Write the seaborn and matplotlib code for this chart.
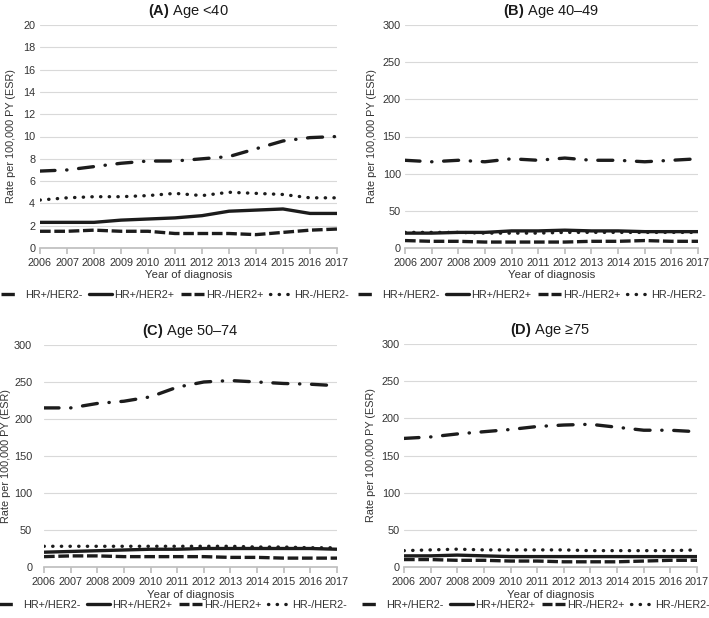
import matplotlib
matplotlib.use("Agg")
import matplotlib.pyplot as plt
from matplotlib.lines import Line2D
import pandas as pd
import seaborn as sns

# years on the x axis
years = list(range(2006, 2018))
subtypes = ["HR+/HER2-", "HR+/HER2+", "HR-/HER2+", "HR-/HER2-"]

# panel A: age <40
a_hrpos_her2neg = [6.9, 7.0, 7.3, 7.6, 7.8, 7.8, 8.0, 8.2, 8.9, 9.6, 9.9, 10.0]
a_hrpos_her2pos = [2.3, 2.3, 2.3, 2.5, 2.6, 2.7, 2.9, 3.3, 3.4, 3.5, 3.1, 3.1]
a_hrneg_her2pos = [1.5, 1.5, 1.6, 1.5, 1.5, 1.3, 1.3, 1.3, 1.2, 1.4, 1.6, 1.7]
a_hrneg_her2neg = [4.3, 4.5, 4.6, 4.6, 4.7, 4.9, 4.7, 5.0, 4.9, 4.8, 4.5, 4.5]

# panel B: age 40-49
b_hrpos_her2neg = [118, 116, 118, 116, 120, 118, 121, 118, 118, 116, 118, 120]
b_hrpos_her2pos = [20, 20, 21, 21, 23, 23, 24, 23, 23, 22, 22, 22]
b_hrneg_her2pos = [10, 9, 9, 8, 8, 8, 8, 9, 9, 10, 9, 9]
b_hrneg_her2neg = [21, 21, 21, 20, 20, 20, 21, 21, 21, 21, 21, 21]

# panel C: age 50-74
c_hrpos_her2neg = [215, 215, 221, 224, 230, 243, 250, 252, 250, 248, 247, 245]
c_hrpos_her2pos = [20, 21, 22, 23, 24, 24, 25, 25, 25, 25, 25, 24]
c_hrneg_her2pos = [14, 15, 15, 14, 14, 14, 14, 13, 13, 12, 12, 12]
c_hrneg_her2neg = [28, 28, 28, 28, 28, 28, 28, 28, 27, 27, 26, 26]

# panel D: age >=75
d_hrpos_her2neg = [173, 175, 179, 182, 185, 189, 191, 192, 188, 184, 184, 182]
d_hrpos_her2pos = [15, 15, 16, 15, 14, 14, 14, 14, 14, 14, 14, 14]
d_hrneg_her2pos = [10, 10, 9, 9, 8, 8, 7, 7, 7, 8, 9, 9]
d_hrneg_her2neg = [22, 23, 24, 23, 23, 23, 23, 22, 22, 22, 22, 23]

panels = [
    ("A", " Age <40", [a_hrpos_her2neg, a_hrpos_her2pos, a_hrneg_her2pos, a_hrneg_her2neg], 20, 2),
    ("B", " Age 40\u201349", [b_hrpos_her2neg, b_hrpos_her2pos, b_hrneg_her2pos, b_hrneg_her2neg], 300, 50),
    ("C", " Age 50\u201374", [c_hrpos_her2neg, c_hrpos_her2pos, c_hrneg_her2pos, c_hrneg_her2neg], 300, 50),
    ("D", " Age \u226575", [d_hrpos_her2neg, d_hrpos_her2pos, d_hrneg_her2pos, d_hrneg_her2neg], 300, 50),
]

sns.set_theme(style="white")
plt.rcParams["font.family"] = ["Liberation Sans", "DejaVu Sans"]
plt.rcParams["mathtext.fontset"] = "custom"
plt.rcParams["mathtext.bf"] = "Liberation Sans:bold"
plt.rcParams["mathtext.rm"] = "Liberation Sans"

line_color = "#1c1c1c"
text_color = "#333333"
lw = 2.4
fs = 7.8
dashes = {
    "HR+/HER2-": (4.5, 3.5, 0.1, 3.5),
    "HR+/HER2+": "",
    "HR-/HER2+": (3.2, 1.1),
    "HR-/HER2-": (0.1, 2.5),
}

fig = plt.figure(figsize=(7.09, 6.18), dpi=100)
W, H = 709, 618
# axes boxes in pixels: left, top, right, bottom
boxes = [(40, 25, 337, 248), (405, 25, 698, 248), (44, 345, 337, 567), (404, 344, 697, 567)]
# legend centres and y-label (right edge) x positions in pixels
legend_centres = [(175, 295), (532, 295), (173, 605), (536, 605)]
ylabel_x = [16, 377, 11, 376]
ytick_pad = [3.5, 3, 8.5, 3]

for (tag, label, series, ymax, ystep), (l, t, r, b), (lx, ly), yx, yp in zip(
        panels, boxes, legend_centres, ylabel_x, ytick_pad):
    ax = fig.add_axes([l / W, 1 - b / H, (r - l) / W, (b - t) / H])
    df = pd.DataFrame({
        "year": years * 4,
        "rate": [v for s in series for v in s],
        "subtype": [st for st in subtypes for _ in years],
    })
    sns.lineplot(data=df, x="year", y="rate", style="subtype", style_order=subtypes,
                 dashes=dashes, color=line_color, linewidth=lw, ax=ax, legend=False)
    for ln, st in zip(ax.lines, subtypes):
        if st == "HR-/HER2+":
            ln.set_dash_capstyle("butt")
        else:
            ln.set_dash_capstyle("round")
        ln.set_solid_capstyle("butt")

    ax.set_xlim(2006, 2017)
    ax.set_ylim(0, ymax)
    ax.set_xticks(years)
    ax.set_yticks(range(0, ymax + 1, ystep))
    ax.grid(axis="y", color="#d9d9d9", linewidth=0.8)
    ax.set_axisbelow(True)
    for side in ["top", "right", "left"]:
        ax.spines[side].set_visible(False)
    ax.spines["bottom"].set_color("#bfbfbf")
    ax.tick_params(axis="x", bottom=True, length=4, color="#bfbfbf", labelsize=fs,
                   labelcolor=text_color, pad=3)
    # zero tick length so the pad alone sets the label gap
    ax.tick_params(axis="y", left=False, length=0, labelsize=fs, labelcolor=text_color, pad=yp)
    ax.set_xlabel("Year of diagnosis", fontsize=8.2, color=text_color, labelpad=2)
    ax.set_ylabel("Rate per 100,000 PY (ESR)", fontsize=7.8, color=text_color)
    ax.yaxis.set_label_coords((yx - l) / (r - l), 0.5)
    ax.set_title(r"$\mathbf{(" + tag + r")}$" + label, fontsize=10.5, color="#1a1a1a", pad=7)

    handles = []
    for st in subtypes:
        if st == "HR+/HER2-":
            h = Line2D([0], [0], color=line_color, linewidth=lw, linestyle=(0, (4.0, 10)),
                       dash_capstyle="butt")
        elif st == "HR+/HER2+":
            h = Line2D([0], [0], color=line_color, linewidth=lw, linestyle="-")
        elif st == "HR-/HER2+":
            h = Line2D([0], [0], color=line_color, linewidth=lw, linestyle=(0, (3.0, 0.9)),
                       dash_capstyle="butt")
        else:
            h = Line2D([0], [0], color=line_color, linewidth=lw, linestyle=(0, (0.1, 2.5)),
                       dash_capstyle="round")
        handles.append(h)
    leg = ax.legend(handles, subtypes, loc="center", bbox_to_anchor=(lx / W, 1 - ly / H),
                    bbox_transform=fig.transFigure, ncol=4, frameon=False, fontsize=fs,
                    handlelength=2.1, handletextpad=0.2, columnspacing=0.6,
                    borderpad=0, borderaxespad=0)
    for txt in leg.get_texts():
        txt.set_color(text_color)

fig.savefig("out.png", dpi=100)
